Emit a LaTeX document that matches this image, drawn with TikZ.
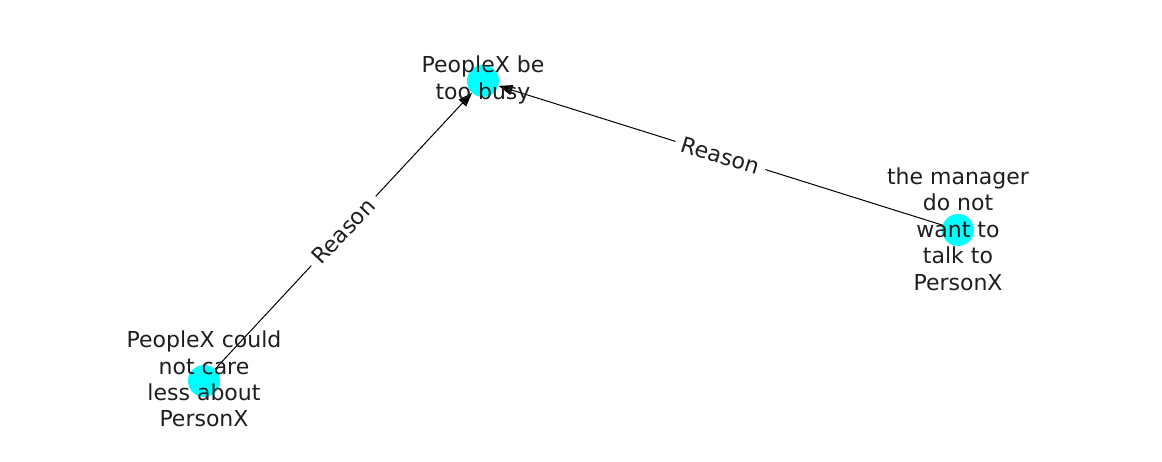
\documentclass[tikz,border=0pt]{standalone}
\usepackage{fontspec}
\setmainfont{DejaVu Sans}
\usetikzlibrary{arrows.meta}
\definecolor{nodecyan}{RGB}{0,255,255}
\definecolor{txt}{RGB}{30,30,30}
\tikzset{
  vert/.style={circle,fill=nodecyan,draw=none,minimum size=32pt,inner sep=0pt},
  vlabel/.style={align=center,text=txt,font=\fontsize{22pt}{26.4pt}\selectfont,inner sep=0pt},
  edgeline/.style={draw=black,line width=1pt,-{Triangle[length=14pt,width=10pt]}},
  elabel/.style={sloped,fill=white,inner xsep=7pt,inner ysep=3pt,text=txt,font=\fontsize{22pt}{26.4pt}\selectfont}
}
\begin{document}
\begin{tikzpicture}[x=1pt,y=-1pt]
\useasboundingbox (0,0) rectangle (1162,462);
\node[vert] (busy) at (483,81) {};
\node[vert] (mgr) at (958,230) {};
\node[vert] (care) at (204,381) {};
\draw[edgeline] (care) -- node[elabel]{Reason} (busy);
\draw[edgeline] (mgr) -- node[elabel]{Reason} (busy);
\node[vlabel] (busyl) at (483,80) {PeopleX be\\too busy};
\node[vlabel] (mgrl) at (958,229) {the manager\\do not\\want to\\talk to\\PersonX};
\node[vlabel] (carel) at (204,379) {PeopleX could\\not care\\less about\\PersonX};
\end{tikzpicture}
\end{document}
